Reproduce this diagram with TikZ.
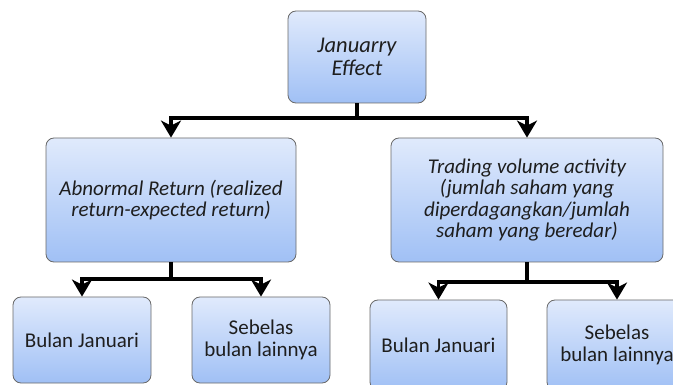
\documentclass[tikz,border=0pt]{standalone}
\usepackage{fontspec}
\setmainfont{Carlito}
\usetikzlibrary{arrows.meta}
\definecolor{boxtop}{RGB}{224,234,252}
\definecolor{boxbot}{RGB}{160,192,245}
\definecolor{boxedge}{RGB}{105,105,105}
\definecolor{txt}{RGB}{30,30,30}
\begin{document}
\begin{tikzpicture}[x=1pt,y=-1pt,
  box/.style={draw=boxedge, line width=0.8pt, rounded corners=8pt,
    top color=boxtop, bottom color=boxbot, align=center, inner sep=2pt,
    text=txt, font=\fontsize{21}{22}\selectfont, anchor=center},
  ibox/.style={box, font=\fontsize{21}{21.5}\selectfont\itshape},
  tbox/.style={box, font=\fontsize{22.5}{23}\selectfont\itshape},
  link/.style={line width=3.5pt, draw=black},
  arr/.style={link, -{Stealth[length=17pt,width=20pt,inset=5pt]}}
]
\useasboundingbox (0,0) rectangle (673,385);
\begin{scope}
\clip (0,0) rectangle (673,385);
\node[tbox, minimum width=138pt, minimum height=92pt] (top) at (357,57) {Januarry\\Effect};
\node[ibox, minimum width=250pt, minimum height=124pt] (abn) at (171,200) {Abnormal Return (realized\\return-expected return)};
\node[ibox, minimum width=272pt, minimum height=124pt] (trd) at (527,200) {Trading volume activity\\(jumlah saham yang\\diperdagangkan/jumlah\\saham yang beredar)};
\node[box, minimum width=138pt, minimum height=86pt] (b1) at (82,340) {Bulan Januari};
\node[box, minimum width=138pt, minimum height=86pt] (b2) at (261,340) {Sebelas\\bulan lainnya};
\node[box, minimum width=137pt, minimum height=90pt] (b3) at (438.5,345) {Bulan Januari};
\node[box, minimum width=140pt, minimum height=90pt] (b4) at (617,345) {Sebelas\\bulan lainnya};
\coordinate (j0) at (357,118);
\coordinate (j1) at (171,279);
\coordinate (j2) at (527,282);
\draw[link] (top.south) -- (j0);
\draw[arr] (j0) -| (abn.north);
\draw[arr] (j0) -| (trd.north);
\draw[link] (abn.south) -- (j1);
\draw[arr] (j1) -| (b1.north);
\draw[arr] (j1) -| (b2.north);
\draw[link] (trd.south) -- (j2);
\draw[arr] (j2) -| (b3.north);
\draw[arr] (j2) -| (b4.north);
\end{scope}
\end{tikzpicture}
\end{document}
